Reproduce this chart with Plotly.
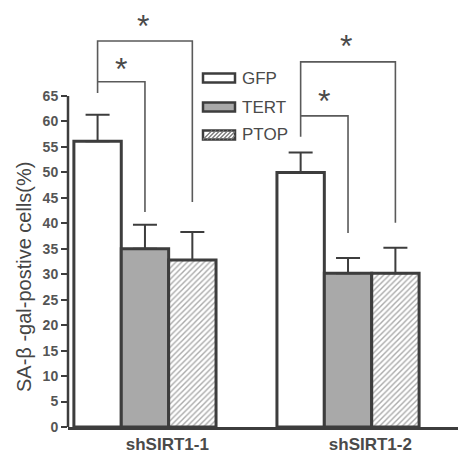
import plotly.graph_objects as go

groups = ["shSIRT1-1", "shSIRT1-2"]
series = ["GFP", "TERT", "PTOP"]
gfp = [56.1, 50.0]
gfp_err = [5.2, 3.9]
tert = [35.0, 30.2]
tert_err = [4.7, 3.0]
ptop = [32.8, 30.2]
ptop_err = [5.5, 5.0]

# significance brackets per group (y values in %)
left_bottom = [65.6, 57.0]
inner_top = [67.8, 61.1]
inner_right_bottom = [42.2, 38.1]
outer_top = [75.8, 71.7]
outer_right_bottom = [44.2, 40.1]
inner_star_y = [71.5, 65.2]
outer_star_y = [79.9, 76.0]

y_ticks = list(range(0, 66, 5))
y_max_tick = 65

EDGE = "#3d3d3d"
TEXT = "#4a4a4a"
GRAY = "#a9a9a9"
FONT = "Liberation Sans, Arial, sans-serif"

# page body has an 8px margin; the figure is laid out in reference pixels minus 8
OFF = 8
W, H = 466 - OFF, 453 - OFF
L, R, T, B = 68 - OFF, 0, 0, 26
pw, ph = W - L - R, H - T - B
unit_px = 331 / 65.0
y_top = ph / unit_px

def px_x(p):
    return (p - OFF - L) / pw
def px_y(p):
    return (H - B - (p - OFF)) / ph

bargap = 0.3
bar_w = (1 - bargap) / 3
xg = [0, 1]
label_shift = 0.11

fig = go.Figure()
fig.add_bar(x=xg, y=gfp, name="GFP", marker=dict(color="white", line=dict(color=EDGE, width=3)),
            error_y=dict(type="data", array=gfp_err, arrayminus=[0, 0], symmetric=False,
                         width=12, thickness=2, color=EDGE))
fig.add_bar(x=xg, y=tert, name="TERT", marker=dict(color=GRAY, line=dict(color=EDGE, width=3)),
            error_y=dict(type="data", array=tert_err, arrayminus=[0, 0], symmetric=False,
                         width=12, thickness=2, color=EDGE))
fig.add_bar(x=xg, y=ptop, name="PTOP",
            marker=dict(color="white", line=dict(color=EDGE, width=3),
                        pattern=dict(shape="/", fgcolor="#555555", bgcolor="white", size=4, solidity=0.35)),
            error_y=dict(type="data", array=ptop_err, arrayminus=[0, 0], symmetric=False,
                         width=12, thickness=2, color=EDGE))

annotations = []
for g in range(2):
    c0 = xg[g] - bar_w
    c1 = xg[g]
    c2 = xg[g] + bar_w
    fig.add_scatter(x=[c0, c0, c2, c2], y=[left_bottom[g], outer_top[g], outer_top[g], outer_right_bottom[g]],
                    mode="lines", line=dict(color="#5a5a5a", width=1.6),
                    showlegend=False, hoverinfo="skip")
    fig.add_scatter(x=[c0, c1, c1], y=[inner_top[g], inner_top[g], inner_right_bottom[g]],
                    mode="lines", line=dict(color="#5a5a5a", width=1.6),
                    showlegend=False, hoverinfo="skip")
    annotations.append(dict(x=(c0 + c2) / 2, y=outer_star_y[g], xref="x", yref="y", text="*",
                            showarrow=False, font=dict(size=32, color=TEXT, family=FONT),
                            xanchor="center", yanchor="middle", yshift=-6, xshift=-2))
    annotations.append(dict(x=(c0 + c1) / 2, y=inner_star_y[g], xref="x", yref="y", text="*",
                            showarrow=False, font=dict(size=32, color=TEXT, family=FONT),
                            xanchor="center", yanchor="middle", yshift=-6))

shapes = [dict(type="line", xref="paper", yref="y", x0=0, x1=0, y0=0, y1=y_max_tick,
               line=dict(color=EDGE, width=2.5))]
leg_y = [78, 107, 135]
leg_fill = ["white", GRAY, "white"]
for i, name in enumerate(series):
    y0, y1 = px_y(leg_y[i] + 4.5), px_y(leg_y[i] - 4.5)
    shapes.append(dict(type="rect", xref="paper", yref="paper", x0=px_x(203), x1=px_x(235),
                       y0=y0, y1=y1, fillcolor=leg_fill[i], line=dict(color=EDGE, width=2.5)))
    if name == "PTOP":
        path = ""
        xs = 203
        while xs < 235:
            xa, xb = max(xs, 203), min(xs + 9, 235)
            ya = leg_y[i] + 4.5 - (xa - xs)
            yb = leg_y[i] + 4.5 - (xb - xs)
            path += f"M{px_x(xa)},{px_y(ya)} L{px_x(xb)},{px_y(yb)} "
            xs += 4
        shapes.append(dict(type="path", xref="paper", yref="paper", path=path,
                           line=dict(color="#777777", width=1.2)))
    annotations.append(dict(x=px_x(240), y=px_y(leg_y[i]), xref="paper", yref="paper", text=name,
                            showarrow=False, xanchor="left", yanchor="middle",
                            font=dict(size=17, color=TEXT, family=FONT)))

annotations.append(dict(x=px_x(24), y=px_y(277), xref="paper", yref="paper",
                        text="SA-β -gal-postive cells(%)", textangle=-90, showarrow=False,
                        xanchor="center", yanchor="middle",
                        font=dict(size=20, color="#454545", family=FONT)))

fig.update_layout(
    width=W, height=H, margin=dict(l=L, r=R, t=T, b=B, autoexpand=False),
    paper_bgcolor="white", plot_bgcolor="white",
    barmode="group", bargap=bargap, bargroupgap=0,
    showlegend=False,
    annotations=annotations, shapes=shapes,
    font=dict(family=FONT, color=TEXT),
)
fig.update_xaxes(range=[-0.379, 1.581], tickvals=[g + label_shift for g in xg], ticktext=groups,
                 showline=True, linecolor=EDGE, linewidth=2.5, ticks="", showgrid=False,
                 zeroline=False, automargin=False, ticklabelstandoff=0,
                 tickfont=dict(size=17, color=TEXT, family="Liberation Sans, Arial", weight="bold"))
fig.update_yaxes(range=[0, y_top], tickvals=y_ticks, showline=False,
                 ticks="outside", ticklen=6, tickwidth=2, tickcolor=EDGE, showgrid=False, zeroline=False,
                 automargin=False,
                 tickfont=dict(size=14, color="#555555", family="Liberation Sans, Arial", weight="bold"))

fig.write_html("out.html")
